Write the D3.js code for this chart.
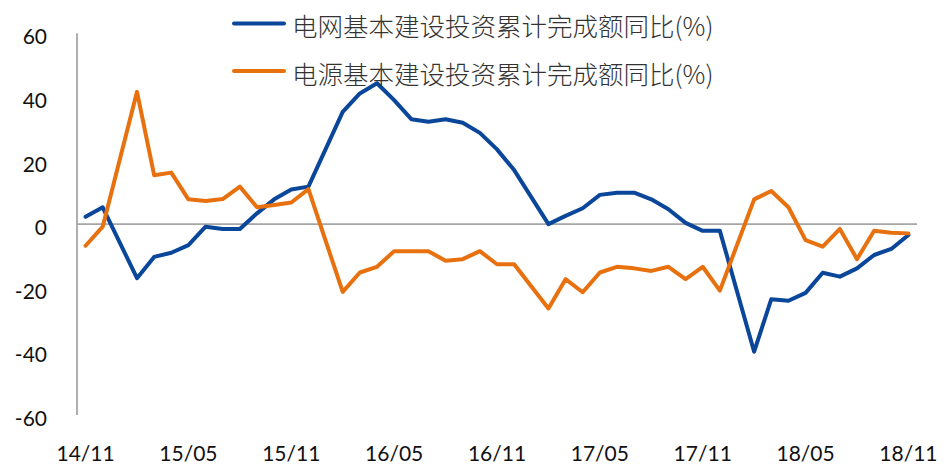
<!DOCTYPE html>
<html>
<head>
<meta charset="utf-8">
<script src="https://cdn.jsdelivr.net/npm/d3@7"></script>
<style>
  html, body { margin: 0; padding: 0; background: #fff; }
  svg { display: block; }
</style>
</head>
<body>
<svg id="chart" width="946" height="465"></svg>
<script>
// Monthly cumulative YoY growth (%); January is folded into February, so it is absent.
const months = [
  "2014-11","2014-12",
  "2015-02","2015-03","2015-04","2015-05","2015-06","2015-07","2015-08","2015-09","2015-10","2015-11","2015-12",
  "2016-02","2016-03","2016-04","2016-05","2016-06","2016-07","2016-08","2016-09","2016-10","2016-11","2016-12",
  "2017-02","2017-03","2017-04","2017-05","2017-06","2017-07","2017-08","2017-09","2017-10","2017-11","2017-12",
  "2018-02","2018-03","2018-04","2018-05","2018-06","2018-07","2018-08","2018-09","2018-10","2018-11"
];

const gridInvest = [
  2.3, 5.3,
  -17.0, -10.3, -9.0, -6.6, -0.8, -1.5, -1.5, 3.4, 7.8, 10.9, 11.8,
  35.3, 41.1, 44.3, 39.0, 33.0, 32.2, 33.0, 31.9, 28.7, 23.5, 17.0,
  0.0, 2.6, 5.0, 9.2, 9.9, 9.9, 7.8, 4.7, 0.4, -2.1, -2.1,
  -40.1, -23.6, -24.1, -21.6, -15.3, -16.5, -13.9, -9.7, -7.8, -3.4
];

const powerInvest = [
  -6.8, -0.8,
  41.6, 15.4, 16.2, 7.8, 7.3, 7.9, 11.8, 5.3, 6.0, 6.8, 11.0,
  -21.3, -15.2, -13.4, -8.5, -8.5, -8.5, -11.5, -11.0, -8.5, -12.6, -12.6,
  -26.5, -17.3, -21.4, -15.2, -13.4, -13.9, -14.7, -13.4, -17.3, -13.4, -20.9,
  7.8, 10.4, 5.3, -5.0, -7.1, -1.5, -11.0, -2.1, -2.7, -2.9
];

const seriesNames = ["电网基本建设投资累计完成额同比(%)", "电源基本建设投资累计完成额同比(%)"];
const seriesColors = ["#0A4699", "#E8710F"];

const xTickMonths = ["2014-11","2015-05","2015-11","2016-05","2016-11","2017-05","2017-11","2018-05","2018-11"];
const yTicks = [-60, -40, -20, 0, 20, 40, 60];

// month index counted from the first month, so skipped Januaries keep their slot
const start = { y: 2014, m: 11 };
function monthIndex(s) {
  const [y, m] = s.split("-").map(Number);
  return (y - start.y) * 12 + (m - start.m);
}
function tickLabel(s) {
  const [y, m] = s.split("-");
  return y.slice(2) + "/" + m;
}

const svg = d3.select("#chart");
const plot = { left: 77, right: 917, top: 33.3, bottom: 415 };
const lastIdx = monthIndex(months[months.length - 1]);

const x = d3.scaleLinear().domain([-0.5, lastIdx + 0.5]).range([plot.left, plot.right]);
const y = d3.scaleLinear().domain([-60, 60]).range([plot.bottom, plot.top]);

const numFont = "Lato, 'Liberation Sans', sans-serif";

// y axis line
svg.append("line")
  .attr("x1", plot.left).attr("x2", plot.left)
  .attr("y1", plot.top).attr("y2", plot.bottom)
  .attr("stroke", "#a6a6a6").attr("stroke-width", 1.8);

// zero baseline
svg.append("line")
  .attr("x1", plot.left).attr("x2", plot.right)
  .attr("y1", y(0)).attr("y2", y(0))
  .attr("stroke", "#a6a6a6").attr("stroke-width", 1.8);

// y tick labels
svg.append("g").selectAll("text").data(yTicks).join("text")
  .attr("x", 47)
  .attr("y", d => y(d) + 2.5)
  .attr("text-anchor", "end")
  .attr("dominant-baseline", "central")
  .attr("font-family", numFont)
  .attr("font-size", 21)
  .attr("fill", "#111")
  .text(d => d);

// x tick labels
svg.append("g").selectAll("text").data(xTickMonths).join("text")
  .attr("x", d => x(monthIndex(d)))
  .attr("y", 452)
  .attr("text-anchor", "middle")
  .attr("dominant-baseline", "central")
  .attr("font-family", numFont)
  .attr("font-size", 21)
  .attr("fill", "#111")
  .text(tickLabel);

const line = d3.line()
  .x((d, i) => x(monthIndex(months[i])))
  .y(d => y(d));

[gridInvest, powerInvest].forEach((vals, k) => {
  svg.append("path")
    .datum(vals)
    .attr("d", line)
    .attr("fill", "none")
    .attr("stroke", seriesColors[k])
    .attr("stroke-width", 4)
    .attr("stroke-linejoin", "round")
    .attr("stroke-linecap", "round");
});

// legend
const legend = svg.append("g");
seriesNames.forEach((name, k) => {
  const ly = 23.5 + k * 47.5;
  legend.append("line")
    .attr("x1", 234).attr("x2", 284)
    .attr("y1", ly).attr("y2", ly)
    .attr("stroke", seriesColors[k])
    .attr("stroke-width", 4)
    .attr("stroke-linecap", "round");
  legend.append("text")
    .attr("x", 292)
    .attr("y", ly + 1)
    .attr("dominant-baseline", "central")
    .attr("font-family", "'Noto Sans CJK SC', sans-serif")
    .attr("font-size", 25.5)
    .attr("font-weight", 300)
    .attr("fill", "#333")
    .text(name);
});
</script>
</body>
</html>
